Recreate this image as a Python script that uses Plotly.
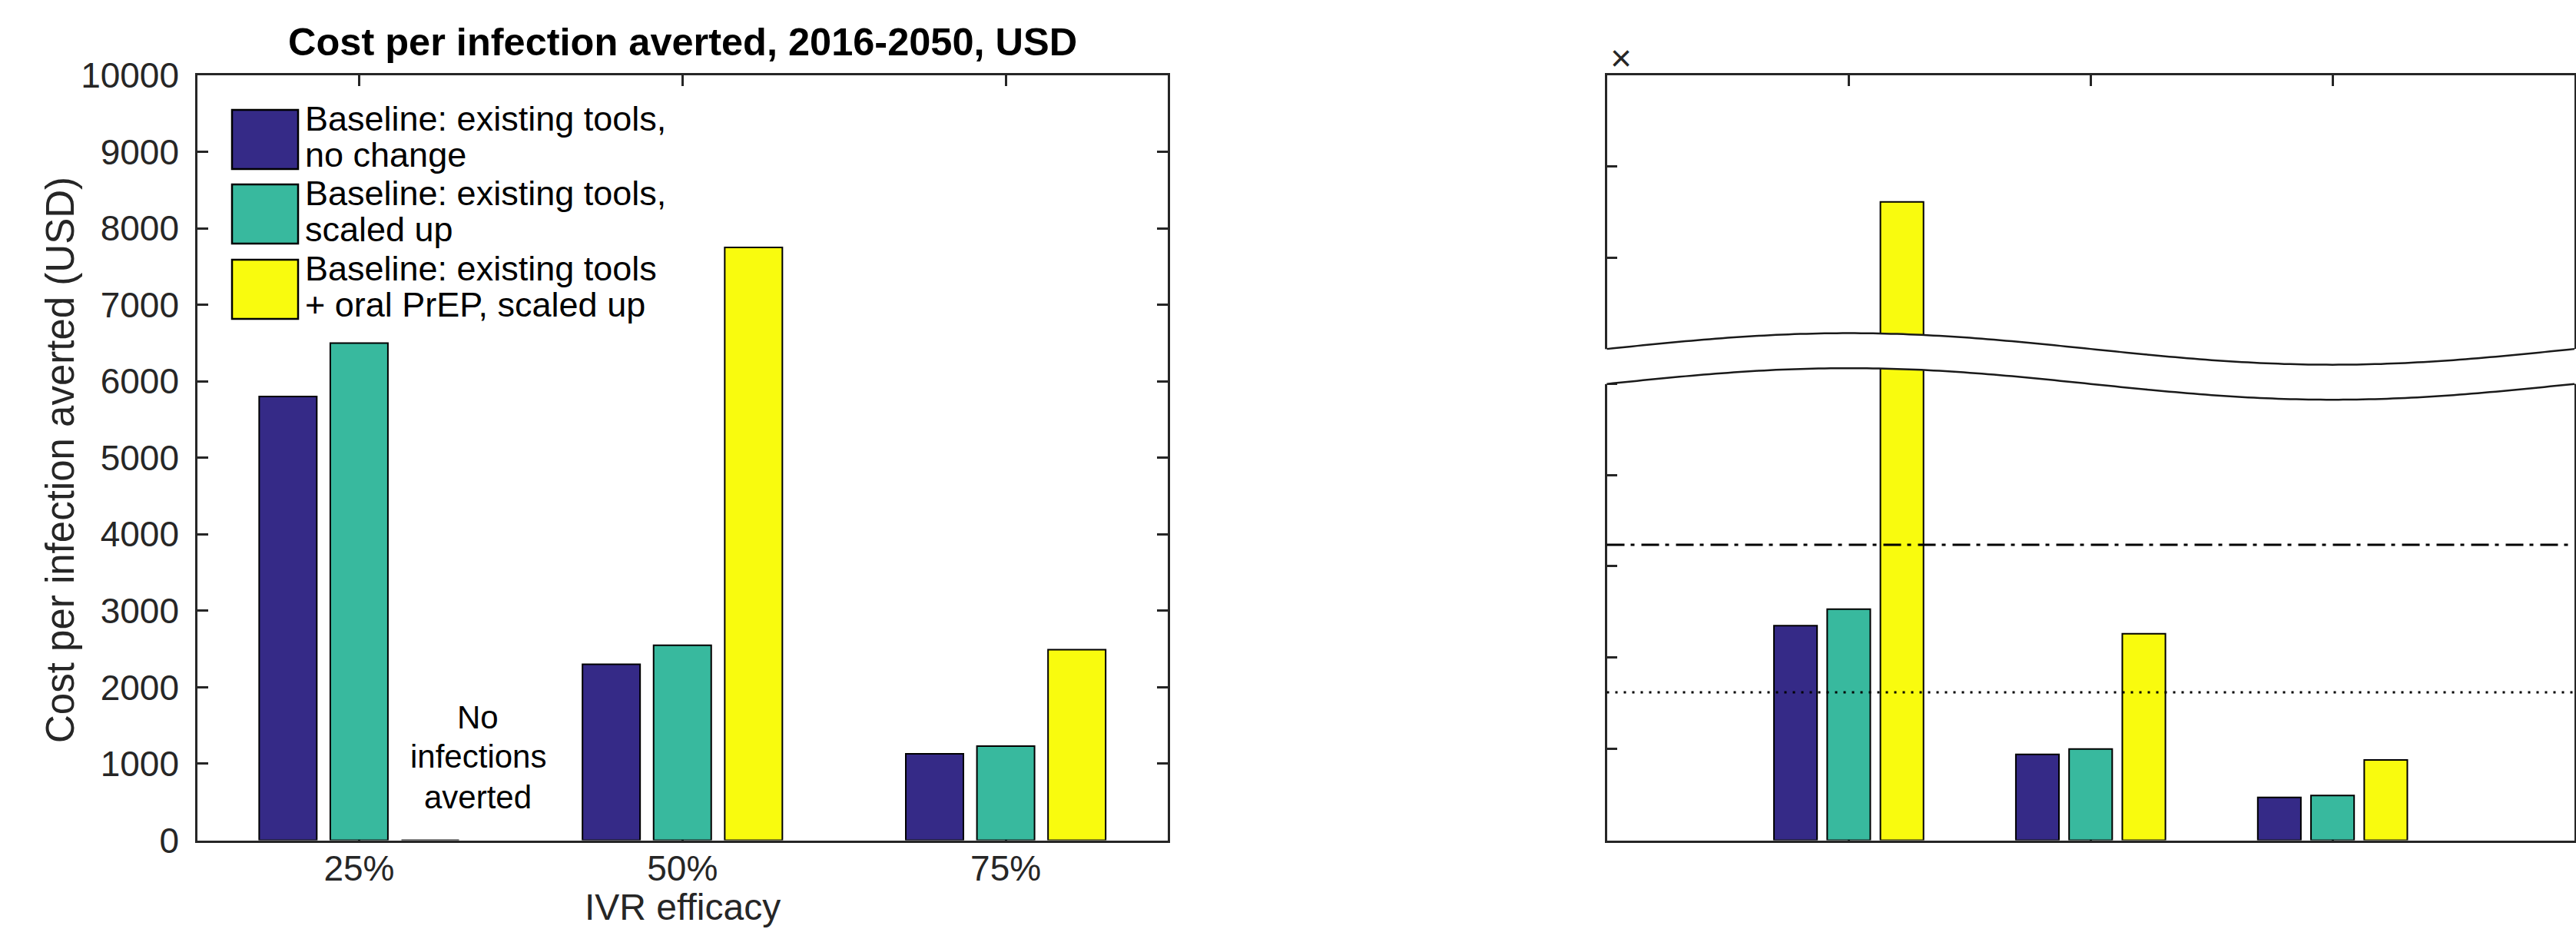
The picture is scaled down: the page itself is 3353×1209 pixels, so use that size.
import numpy as np
import plotly.graph_objects as go

W, H = 3353, 1209

# ---------------- data ----------------
CATEGORIES = ["25%", "50%", "75%"]
SERIES_COLORS = ["#352a87", "#38b99e", "#f9fb0e"]
LEGEND_LABELS = [
    ["Baseline: existing tools,", "no change"],
    ["Baseline: existing tools,", "scaled up"],
    ["Baseline: existing tools", "+ oral PrEP, scaled up"],
]

# left panel: cost per infection averted (USD)
LEFT_NO_CHANGE = [5800, 2300, 1130]
LEFT_SCALED_UP = [6500, 2550, 1230]
LEFT_ORAL_PREP = [0, 7750, 2490]

# right panel (unlabelled axis, broken above ~5 units; values as displayed)
RIGHT_NO_CHANGE = [2.35, 0.94, 0.47]
RIGHT_SCALED_UP = [2.53, 1.00, 0.49]
RIGHT_ORAL_PREP = [6.99, 2.26, 0.88]
RIGHT_THRESHOLDS = [1.62, 3.235]          # dotted, dash-dot
RIGHT_TICKS = [0, 1, 2, 3, 4, 5, 6.375, 7.375, 8.375]
RIGHT_YMAX = 8.375

LEFT_YTICKS = list(range(0, 10001, 1000))

TITLE = "Cost per infection averted, 2016-2050, USD"
XTITLE = "IVR efficacy"
YTITLE = "Cost per infection averted (USD)"
NOTE_LINES = ["No", "infections", "averted"]

FONT = "Liberation Sans, Arial, Helvetica, sans-serif"
AX = "#262626"


def px(x):
    return x / W


def py(y):
    return 1 - y / H


# panel geometry (pixels)
L_X0, L_X1 = 257, 1519.5
R_X0, R_X1 = 2091.5, 3351
Y_TOP, Y_BOT = 98, 1093.5

fig = go.Figure()

for vals, col in zip([LEFT_NO_CHANGE, LEFT_SCALED_UP, LEFT_ORAL_PREP], SERIES_COLORS):
    fig.add_trace(go.Bar(x=CATEGORIES, y=vals, xaxis="x", yaxis="y",
                         marker=dict(color=col, line=dict(color="black", width=2)),
                         showlegend=False, hoverinfo="x+y"))
for vals, col in zip([RIGHT_NO_CHANGE, RIGHT_SCALED_UP, RIGHT_ORAL_PREP], SERIES_COLORS):
    fig.add_trace(go.Bar(x=CATEGORIES, y=vals, xaxis="x2", yaxis="y2",
                         marker=dict(color=col, line=dict(color="black", width=2)),
                         showlegend=False, hoverinfo="x+y"))

axis_common = dict(showline=True, linecolor=AX, linewidth=2.5, ticks="inside",
                   ticklen=14, tickwidth=2.5, tickcolor=AX, showgrid=False,
                   zeroline=False, layer="below traces", automargin=False,
                   tickfont=dict(family=FONT, size=46, color=AX))

ydom = [py(Y_BOT), py(Y_TOP)]

fig.update_layout(
    width=W, height=H,
    margin=dict(l=0, r=0, t=0, b=0, pad=0, autoexpand=False),
    paper_bgcolor="white", plot_bgcolor="white",
    barmode="group", bargap=0.34, bargroupgap=0.19,
    showlegend=False,
    font=dict(family=FONT, color=AX),
    xaxis=dict(domain=[px(L_X0), px(L_X1)], anchor="y", type="category",
               range=[-0.5, 2.5], mirror="allticks", ticklabelstandoff=-5,
               **axis_common),
    yaxis=dict(domain=ydom, anchor="x", range=[0, 10000], tickmode="array",
               tickvals=LEFT_YTICKS, tickformat="d", mirror="allticks",
               ticklabelstandoff=12, **axis_common),
    xaxis2=dict(domain=[px(R_X0), px(R_X1)], anchor="y2", type="category",
                range=[-1, 3], mirror="allticks", showticklabels=False,
                **axis_common),
    yaxis2=dict(domain=ydom, anchor="x2", range=[0, RIGHT_YMAX], tickmode="array",
                tickvals=RIGHT_TICKS, showticklabels=False, mirror=True,
                **axis_common),
)

shapes = []
# legend swatches
sw_tops = [143, 240, 338]
for top, col in zip(sw_tops, SERIES_COLORS):
    shapes.append(dict(type="rect", xref="paper", yref="paper",
                       x0=px(302), x1=px(388), y0=py(top + 77), y1=py(top),
                       fillcolor=col, line=dict(color="black", width=2.5)))

# threshold lines in right panel
dashes = ["3px,8px", "23px,8px,5px,9px"]
for val, d in zip(RIGHT_THRESHOLDS, dashes):
    shapes.append(dict(type="line", xref="paper", yref="y2",
                       x0=px(R_X0), x1=px(R_X1), y0=val, y1=val,
                       line=dict(color="black", width=3, dash=d)))

# axis break band (wavy)
def xpaper(u):  # u in [0,4] across right panel
    return px(R_X0 + (R_X1 - R_X0) * u / 4)

us = np.linspace(-0.02, 4.02, 161)
amp = 0.1726
upper = 5.379 + amp * np.sin(np.pi * us / 2)
lower = 4.996 + amp * np.sin(np.pi * us / 2)
band = "M " + " L ".join(f"{xpaper(u):.6f},{v:.5f}" for u, v in zip(us, upper))
band += " L " + " L ".join(f"{xpaper(u):.6f},{v:.5f}" for u, v in zip(us[::-1], lower[::-1])) + " Z"
shapes.append(dict(type="path", xref="paper", yref="y2", path=band,
                   fillcolor="white", line=dict(width=0), layer="above"))
us2 = np.linspace(0, 4, 161)
for c in (5.379, 4.996):
    ys = c + amp * np.sin(np.pi * us2 / 2)
    p = "M " + " L ".join(f"{xpaper(u):.6f},{v:.5f}" for u, v in zip(us2, ys))
    shapes.append(dict(type="path", xref="paper", yref="y2", path=p,
                       line=dict(color="#1a1a1a", width=2.5), layer="above"))

fig.update_layout(shapes=shapes)

annotations = []


def text_at(text, x_px, baseline_px, size, xanchor="center", color="black",
            bold=False, angle=0):
    t = f"<b>{text}</b>" if bold else text
    annotations.append(dict(text=t, x=px(x_px), y=py(baseline_px - 0.347 * size),
                            xref="paper", yref="paper", xanchor=xanchor,
                            yanchor="middle", showarrow=False, borderpad=0,
                            borderwidth=0, textangle=angle,
                            font=dict(family=FONT, size=size, color=color)))


# title
text_at(TITLE, 888, 72, 50.5, bold=True, color="black")
# x title
text_at(XTITLE, 888, 1197, 48, color=AX)
# y title (rotated)
annotations.append(dict(text=YTITLE, x=px(78), y=py(599), xref="paper", yref="paper",
                        xanchor="center", yanchor="middle", showarrow=False,
                        textangle=-90, borderpad=0, borderwidth=0,
                        font=dict(family=FONT, size=51, color=AX)))
# legend labels
for top, lines in zip(sw_tops, LEGEND_LABELS):
    text_at(lines[0], 397, top + 27.5, 45, xanchor="left")
    text_at(lines[1], 397, top + 74.6, 45, xanchor="left")
# note
for line, bl in zip(NOTE_LINES, [948.3, 999.3, 1051.7]):
    text_at(line, 622, bl, 42)
# exponent marker of right panel
annotations.append(dict(text="×", x=px(2110), y=py(75.5), xref="paper", yref="paper",
                        xanchor="center", yanchor="middle", showarrow=False,
                        borderpad=0, borderwidth=0,
                        font=dict(family=FONT, size=48, color=AX)))

fig.update_layout(annotations=annotations)

fig.write_html("out.html")
